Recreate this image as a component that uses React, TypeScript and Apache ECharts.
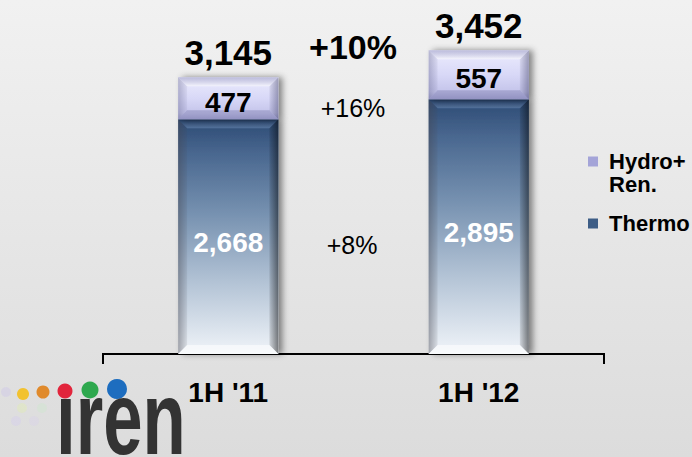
import React, { useEffect, useRef } from "react";
import * as echarts from "echarts";

const categories = ["1H '11", "1H '12"];
const thermo = [2668, 2895];
const hydroRen = [477, 557];
const totals = [3145, 3452];
const growthTotal = "+10%";
const growthHydro = "+16%";
const growthThermo = "+8%";
const seriesNames = ["Hydro+\nRen.", "Thermo"];
const yMax = 4000;

const FONT = '"Liberation Sans", Arial, Helvetica, sans-serif';

const fmt = (v: number) => v.toLocaleString("en-US");

function makeRender(kind: "thermo" | "hydro") {
  return (params: any, api: any) => {
    const i = api.value(0);
    const lo = api.value(1);
    const hi = api.value(2);
    const val = api.value(3);
    const pLo = api.coord([i, lo]);
    const pHi = api.coord([i, hi]);
    const w = api.size([1, 0])[0] * 0.4;
    const x0 = pLo[0] - w / 2;
    const x1 = x0 + w;
    const cx = pLo[0];
    const yb = pLo[1];
    const yt = pHi[1];
    const h = yb - yt;
    const b = Math.min(9, h / 3);
    const isT = kind === "thermo";
    const fill = isT
      ? new echarts.graphic.LinearGradient(0, 0, 0, 1, [
          { offset: 0, color: "#2c4a74" },
          { offset: 0.15, color: "#4a6890" },
          { offset: 0.4, color: "#7691b0" },
          { offset: 0.7, color: "#b4c4d6" },
          { offset: 1, color: "#f0f4f9" },
        ])
      : new echarts.graphic.LinearGradient(0, 0, 0, 1, [
          { offset: 0, color: "#ececfd" },
          { offset: 0.5, color: "#d8d8f7" },
          { offset: 0.85, color: "#c4c4ea" },
          { offset: 1, color: "#a4a4d2" },
        ]);
    const children: any[] = [
      {
        type: "rect",
        shape: { x: x0, y: yt, width: w, height: h },
        style: {
          fill,
          shadowBlur: 6,
          shadowOffsetX: 4,
          shadowOffsetY: 0,
          shadowColor: "rgba(0,0,0,0.45)",
        },
      },
      {
        type: "polygon",
        shape: { points: [[x0, yt], [x0 + b, yt + b], [x0 + b, yb - b], [x0, yb]] },
        style: {
          fill: new echarts.graphic.LinearGradient(0, 0, 1, 0, [
            { offset: 0, color: isT ? "rgba(70,70,80,0.45)" : "rgba(100,100,140,0.4)" },
            { offset: 1, color: isT ? "rgba(70,70,80,0.1)" : "rgba(100,100,140,0.08)" },
          ]),
        },
      },
      {
        type: "polygon",
        shape: { points: [[x1, yt], [x1 - b, yt + b], [x1 - b, yb - b], [x1, yb]] },
        style: {
          fill: new echarts.graphic.LinearGradient(0, 0, 1, 0, [
            { offset: 0, color: isT ? "rgba(0,0,0,0.1)" : "rgba(60,60,100,0.08)" },
            { offset: 1, color: isT ? "rgba(0,0,0,0.5)" : "rgba(60,60,100,0.45)" },
          ]),
        },
      },
      {
        type: "polygon",
        shape: { points: [[x0, yt], [x1, yt], [x1 - b, yt + b], [x0 + b, yt + b]] },
        style: {
          fill: new echarts.graphic.LinearGradient(0, 0, 0, 1, [
            { offset: 0, color: isT ? "rgba(20,40,70,0.5)" : "rgba(130,130,180,0.45)" },
            { offset: 1, color: isT ? "rgba(130,160,200,0.4)" : "rgba(255,255,255,0.6)" },
          ]),
        },
      },
      {
        type: "polygon",
        shape: { points: [[x0, yb], [x1, yb], [x1 - b, yb - b], [x0 + b, yb - b]] },
        style: {
          fill: isT ? "rgba(255,255,255,0.55)" : "rgba(120,120,170,0.4)",
        },
      },
      {
        type: "text",
        style: {
          text: fmt(val),
          x: cx,
          y: (yt + yb) / 2 + (isT ? 6 : 4),
          align: "center",
          verticalAlign: "middle",
          fill: isT ? "#ffffff" : "#000000",
          fontSize: 28,
          fontWeight: "bold",
          fontFamily: FONT,
        },
      },
    ];
    if (!isT) {
      children.push({
        type: "text",
        style: {
          text: fmt(api.value(4)),
          x: cx,
          y: yt - 25,
          align: "center",
          verticalAlign: "middle",
          fill: "#000000",
          fontSize: 35,
          fontWeight: "bold",
          fontFamily: FONT,
        },
      });
    }
    return { type: "group", children };
  };
}

export default function App() {
  const ref = useRef<HTMLDivElement>(null);
  useEffect(() => {
    if (!ref.current) return;
    const chart = echarts.init(ref.current, undefined, { renderer: "svg" });
    const thermoData = thermo.map((v, i) => [i, 0, v, v]);
    const hydroData = hydroRen.map((v, i) => [i, thermo[i], thermo[i] + v, v, totals[i]]);
    const faint = [
      { x: 6, y: 392, r: 5, c: "rgba(200,190,240,0.3)" },
      { x: 22, y: 408, r: 5, c: "rgba(225,240,170,0.35)" },
      { x: 42, y: 408, r: 5, c: "rgba(200,235,200,0.3)" },
      { x: 16, y: 421, r: 5, c: "rgba(210,200,245,0.3)" },
      { x: 34, y: 421, r: 5, c: "rgba(215,205,245,0.25)" },
    ];
    const dots = [
      { x: 23, y: 394, r: 6, c: "#f2c230" },
      { x: 43, y: 392, r: 6.5, c: "#e08a2c" },
      { x: 65, y: 391, r: 7.5, c: "#e2253c" },
      { x: 90, y: 390, r: 8.5, c: "#2ea84e" },
      { x: 117, y: 389, r: 10, c: "#1d6dbf" },
    ];
    chart.setOption({
      animation: false,
      backgroundColor: new echarts.graphic.LinearGradient(0, 0, 0, 1, [
        { offset: 0, color: "#f1f1f1" },
        { offset: 1, color: "#dcdcdc" },
      ]),
      grid: { left: 103, right: 88, top: 2, bottom: 103 },
      xAxis: {
        type: "category",
        data: categories,
        axisLine: { lineStyle: { color: "#000", width: 2 } },
        axisTick: { show: false },
        axisLabel: {
          fontSize: 28,
          fontWeight: "bold",
          color: "#000",
          margin: 24,
          fontFamily: FONT,
        },
      },
      yAxis: { type: "value", min: 0, max: yMax, show: false, splitLine: { show: false } },
      legend: {
        orient: "vertical",
        left: 583,
        top: 122,
        itemWidth: 10,
        itemHeight: 10,
        itemGap: 16,
        icon: "rect",
        selectedMode: false,
        data: [seriesNames[0], seriesNames[1]],
        formatter: (name: string) => {
          const lines = name.split("\n").map((l) => " " + l);
          return lines.length > 1 ? "\n" + lines.join("\n") : lines[0];
        },
        textStyle: {
          fontSize: 22,
          fontWeight: "bold",
          color: "#000",
          lineHeight: 23,
          fontFamily: FONT,
        },
      },
      series: [
        {
          type: "custom",
          name: seriesNames[1],
          renderItem: makeRender("thermo"),
          data: thermoData,
          encode: { x: 0, y: 2 },
          itemStyle: { color: "#3d5d86" },
        },
        {
          type: "custom",
          name: seriesNames[0],
          renderItem: makeRender("hydro"),
          data: hydroData,
          encode: { x: 0, y: 2 },
          itemStyle: { color: "#a4a4d8" },
        },
      ],
      graphic: [
        { type: "line", shape: { x1: 103, y1: 353, x2: 103, y2: 364 }, style: { stroke: "#000", lineWidth: 2 } },
        { type: "line", shape: { x1: 604, y1: 353, x2: 604, y2: 364 }, style: { stroke: "#000", lineWidth: 2 } },
        {
          type: "text",
          x: 353,
          y: 47,
          style: { text: growthTotal, align: "center", verticalAlign: "middle", fill: "#000", fontSize: 34, fontWeight: "bold", fontFamily: FONT },
        },
        {
          type: "text",
          x: 353,
          y: 108,
          style: { text: growthHydro, align: "center", verticalAlign: "middle", fill: "#000", fontSize: 25, fontFamily: FONT },
        },
        {
          type: "text",
          x: 352,
          y: 245,
          style: { text: growthThermo, align: "center", verticalAlign: "middle", fill: "#000", fontSize: 25, fontFamily: FONT },
        },
        ...faint.map((d) => ({ type: "circle", shape: { cx: d.x, cy: d.y, r: d.r }, style: { fill: d.c } })),
        ...dots.map((d) => ({ type: "circle", shape: { cx: d.x, cy: d.y, r: d.r }, style: { fill: d.c } })),
        {
          type: "text",
          x: 56,
          y: 418,
          scaleX: 0.68,
          style: { text: "ıren", align: "left", verticalAlign: "middle", fill: "#333333", fontSize: 104, fontWeight: "bold", fontFamily: FONT },
        },
      ],
    });
    return () => chart.dispose();
  }, []);
  return <div ref={ref} style={{ position: "fixed", left: 0, top: 0, width: 692, height: 457 }} />;
}
